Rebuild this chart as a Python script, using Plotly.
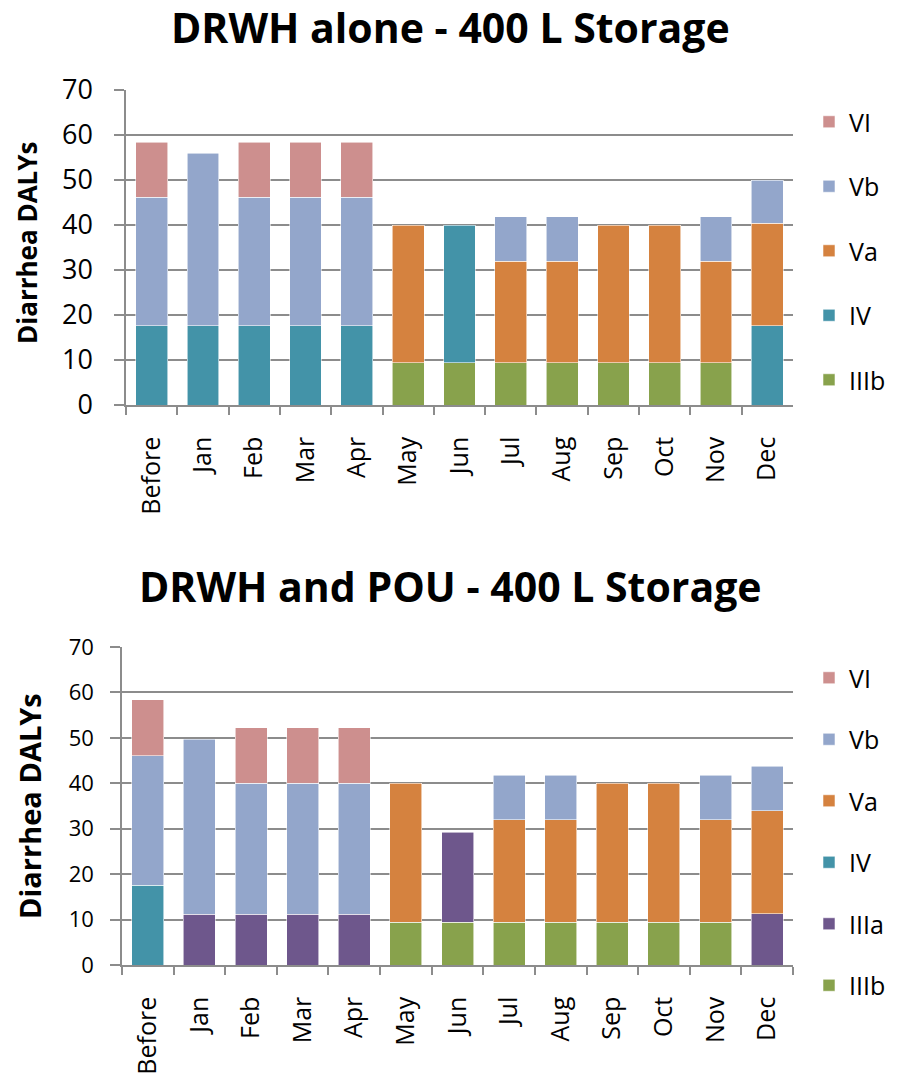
import plotly.graph_objects as go

months = ["Before", "Jan", "Feb", "Mar", "Apr", "May", "Jun", "Jul", "Aug", "Sep", "Oct", "Nov", "Dec"]
N = None

# Top chart: DRWH alone - 400 L Storage (segment heights)
top_IIIb = [N, N, N, N, N, 9.4, 9.4, 9.4, 9.4, 9.4, 9.4, 9.4, N]
top_IV   = [17.6, 17.6, 17.6, 17.6, 17.6, N, 30.6, N, N, N, N, N, 17.6]
top_Va   = [N, N, N, N, N, 30.6, N, 22.6, 22.6, 30.6, 30.6, 22.6, 22.8]
top_Vb   = [28.6, 38.3, 28.6, 28.6, 28.6, N, N, 9.8, 9.8, N, N, 9.8, 9.6]
top_VI   = [12.2, N, 12.2, 12.2, 12.2, N, N, N, N, N, N, N, N]

# Bottom chart: DRWH and POU - 400 L Storage (segment heights)
bot_IIIb = [N, N, N, N, N, 9.4, 9.4, 9.4, 9.4, 9.4, 9.4, 9.4, N]
bot_IIIa = [N, 11.2, 11.2, 11.2, 11.2, N, 19.8, N, N, N, N, N, 11.3]
bot_IV   = [17.6, N, N, N, N, N, N, N, N, N, N, N, N]
bot_Va   = [N, N, N, N, N, 30.6, N, 22.6, 22.6, 30.6, 30.6, 22.6, 22.7]
bot_Vb   = [28.5, 38.5, 28.8, 28.8, 28.8, N, N, 9.8, 9.8, N, N, 9.8, 9.8]
bot_VI   = [12.3, N, 12.2, 12.2, 12.2, N, N, N, N, N, N, N, N]

colors = {
    "VI": "#CD8F8E",
    "Vb": "#93A6CB",
    "Va": "#D5823F",
    "IV": "#4393A8",
    "IIIa": "#6E578C",
    "IIIb": "#88A24C",
}
legend_rank = {"VI": 1, "Vb": 2, "Va": 3, "IV": 4, "IIIa": 5, "IIIb": 6}

FONT = "Open Sans"
GRID = "#8C8C8C"

fig = go.Figure()

top_series = [("IIIb", top_IIIb), ("IV", top_IV), ("Va", top_Va), ("Vb", top_Vb), ("VI", top_VI)]
bot_series = [("IIIb", bot_IIIb), ("IIIa", bot_IIIa), ("IV", bot_IV), ("Va", bot_Va), ("Vb", bot_Vb), ("VI", bot_VI)]

for name, vals in top_series:
    fig.add_trace(go.Bar(
        x=months, y=vals, name=name,
        marker=dict(color=colors[name], line=dict(color="rgba(255,255,255,0.7)", width=0.8)),
        xaxis="x", yaxis="y", legend="legend", legendgroup="t" + name,
        legendrank=legend_rank[name],
    ))
for name, vals in bot_series:
    fig.add_trace(go.Bar(
        x=months, y=vals, name=name,
        marker=dict(color=colors[name], line=dict(color="rgba(255,255,255,0.7)", width=0.8)),
        xaxis="x2", yaxis="y2", legend="legend2", legendgroup="b" + name,
        legendrank=legend_rank[name],
    ))

W, H = 898, 1082

def px_x(p):
    return p / W

def px_y(p):
    return 1 - p / H

common_x = dict(
    type="category", showgrid=False, showline=True, linecolor=GRID, linewidth=1.5,
    ticks="outside", tickson="boundaries", ticklen=8, tickcolor=GRID, tickwidth=1.5,
    tickangle=-90, tickfont=dict(family=FONT, size=25, color="#000"),
    ticklabelstandoff=20,
)
common_y = dict(
    range=[0, 70], dtick=10, showgrid=True, gridcolor=GRID, gridwidth=1.5,
    showline=True, linecolor=GRID, linewidth=1.5, ticks="outside", ticklen=10,
    tickcolor=GRID, tickwidth=1.5, zeroline=False,
)

fig.update_layout(
    width=W, height=H, margin=dict(l=0, r=0, t=0, b=0, autoexpand=False),
    paper_bgcolor="white", plot_bgcolor="white",
    barmode="stack", bargap=0.38, showlegend=True,
    xaxis=dict(domain=[px_x(126), px_x(793)], anchor="y", **common_x),
    yaxis=dict(domain=[px_y(405), px_y(90)], anchor="x", ticklabelstandoff=16,
               tickfont=dict(family=FONT, size=27, color="#000"), **common_y),
    xaxis2=dict(domain=[px_x(122), px_x(793)], anchor="y2", **common_x),
    yaxis2=dict(domain=[px_y(965), px_y(647)], anchor="x2", ticklabelstandoff=12,
                tickfont=dict(family=FONT, size=22, color="#000"), **common_y),
    legend=dict(x=px_x(809), y=px_y(99), xanchor="left", yanchor="top",
                traceorder="grouped", tracegroupgap=29,
                font=dict(family=FONT, size=25, color="#000"), itemwidth=30,
                bgcolor="rgba(0,0,0,0)"),
    legend2=dict(x=px_x(809), y=px_y(655), xanchor="left", yanchor="top",
                 traceorder="grouped", tracegroupgap=26,
                 font=dict(family=FONT, size=25, color="#000"), itemwidth=30,
                 bgcolor="rgba(0,0,0,0)"),
    annotations=[
        dict(text="<b>DRWH alone - 400 L Storage</b>", x=px_x(451), y=px_y(27),
             xref="paper", yref="paper", showarrow=False, xanchor="center", yanchor="middle",
             font=dict(family=FONT, size=41, color="#000")),
        dict(text="<b>DRWH and POU - 400 L Storage</b>", x=px_x(450), y=px_y(586),
             xref="paper", yref="paper", showarrow=False, xanchor="center", yanchor="middle",
             font=dict(family=FONT, size=41, color="#000")),
        dict(text="<b>Diarrhea DALYs</b>", x=px_x(27), y=px_y(243), textangle=-90,
             xref="paper", yref="paper", showarrow=False, xanchor="center", yanchor="middle",
             font=dict(family=FONT, size=26, color="#000")),
        dict(text="<b>Diarrhea DALYs</b>", x=px_x(29), y=px_y(806), textangle=-90,
             xref="paper", yref="paper", showarrow=False, xanchor="center", yanchor="middle",
             font=dict(family=FONT, size=29, color="#000")),
    ],
)

fig.write_html("out.html")
